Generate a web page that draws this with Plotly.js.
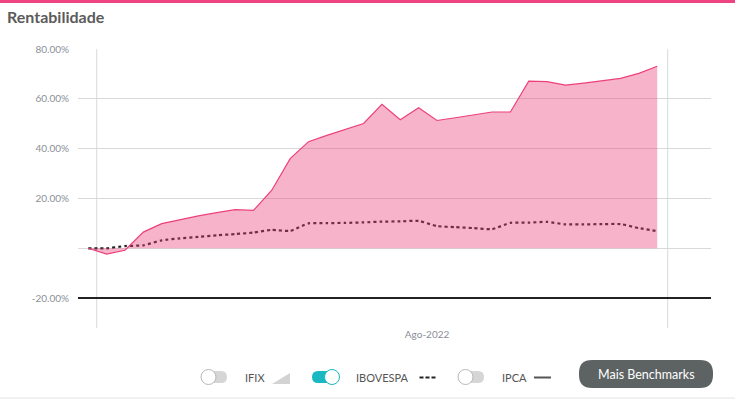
<!DOCTYPE html>
<html>
<head>
<meta charset="utf-8">
<script src="https://cdn.plot.ly/plotly-3.0.1.min.js"></script>
<style>
  html, body { margin: 0; padding: 0; background: #ffffff; }
  #chart { width: 735px; height: 399px; }
</style>
</head>
<body>
<div id="chart"></div>
<script>
// ---- data ----
const periods = [0,1,2,3,4,5,6,7,8,9,10,11,12,13,14,15,16,17,18,19,20,21,22,23,24,25,26,27,28,29,30,31];
const carteira = [0,-2.3,-0.8,6.5,9.9,11.6,13.0,14.3,15.5,15.2,23.3,36.0,42.8,45.3,47.7,50.1,57.8,51.6,56.4,51.3,52.4,53.5,54.7,54.7,67.1,66.9,65.5,66.3,67.2,68.2,70.2,73.1];
const ibovespa = [0,0,0.9,1.2,3.2,4.0,4.6,5.2,5.7,6.3,7.4,7.0,10.0,10.1,10.2,10.4,10.7,10.8,11.0,8.9,8.5,8.1,7.7,10.2,10.3,10.6,9.6,9.6,9.7,9.7,8.1,6.9];
const yTickVals = [-20, 0, 20, 40, 60, 80];
const yTickText = ['-20.00%', '', '20.00%', '40.00%', '60.00%', '80.00%'];
const xTickVals = [18.46];
const xTickText = ['Ago-2022'];
const xGridAt = [0.46, 31.57];
const legendItems = ['IFIX', 'IBOVESPA', 'IPCA'];
const buttonText = 'Mais Benchmarks';

// ---- layout helpers (pixel -> paper) ----
const L = 78, R = 711, T = 49, B = 328;
const px = p => (p - L) / (R - L);
const py = p => (B - p) / (B - T);
function rr(x0, y0, x1, y1, r) {
  const X = px, Y = py;
  return 'M' + X(x0 + r) + ',' + Y(y0) +
    ' L' + X(x1 - r) + ',' + Y(y0) +
    ' Q' + X(x1) + ',' + Y(y0) + ' ' + X(x1) + ',' + Y(y0 + r) +
    ' L' + X(x1) + ',' + Y(y1 - r) +
    ' Q' + X(x1) + ',' + Y(y1) + ' ' + X(x1 - r) + ',' + Y(y1) +
    ' L' + X(x0 + r) + ',' + Y(y1) +
    ' Q' + X(x0) + ',' + Y(y1) + ' ' + X(x0) + ',' + Y(y1 - r) +
    ' L' + X(x0) + ',' + Y(y0 + r) +
    ' Q' + X(x0) + ',' + Y(y0) + ' ' + X(x0 + r) + ',' + Y(y0) + ' Z';
}
function pshape(o) { return Object.assign({xref: 'paper', yref: 'paper'}, o); }
function circ(cx, cy, r, fill, line) {
  return pshape({type: 'circle', x0: px(cx - r), x1: px(cx + r), y0: py(cy + r), y1: py(cy - r),
    fillcolor: fill, line: {color: line, width: 1}});
}
function hline(x0, x1, y, color, w) {
  return pshape({type: 'line', x0: px(x0), x1: px(x1), y0: py(y), y1: py(y), line: {color: color, width: w}});
}

const PINK = '#ec407a';
const TEAL = '#1ab9c1';

const traces = [
  {
    x: periods, y: ibovespa, type: 'scatter', mode: 'lines',
    line: {color: '#222222', width: 2.2, dash: 'dot', shape: 'spline', smoothing: 0.5},
    hoverinfo: 'skip', showlegend: false
  },
  {
    x: periods, y: carteira, type: 'scatter', mode: 'lines',
    fill: 'tozeroy', fillcolor: 'rgba(236,64,122,0.4)',
    line: {color: PINK, width: 1.2},
    hoverinfo: 'skip', showlegend: false
  }
];

const shapes = [];
// top accent bar and bottom border
shapes.push(pshape({type: 'rect', x0: px(0), x1: px(735), y0: py(3), y1: py(0), fillcolor: '#ee4581', line: {width: 0}}));
shapes.push(hline(0, 735, 398, '#e4e4e4', 1));
// vertical grid lines
xGridAt.forEach(v => shapes.push({type: 'line', xref: 'x', yref: 'paper', x0: v, x1: v, y0: 0, y1: 1,
  line: {color: '#d9d9d9', width: 1}, layer: 'below'}));
// -20% axis line
shapes.push({type: 'line', xref: 'paper', yref: 'y', x0: 0, x1: 1, y0: -20, y1: -20, line: {color: '#222222', width: 2}});

// legend: toggles
// IFIX off
shapes.push(pshape({type: 'path', path: rr(201, 371, 227, 383, 6), fillcolor: '#d6d6d6', line: {width: 0}}));
shapes.push(circ(208.5, 377, 7.5, '#ffffff', '#b8b8b8'));
// IFIX symbol (triangle)
shapes.push(pshape({type: 'path', path: 'M' + px(272) + ',' + py(384) + ' L' + px(290) + ',' + py(384) + ' L' + px(290) + ',' + py(373) + ' Z',
  fillcolor: '#d3d3d3', line: {width: 0}}));
// IBOVESPA on
shapes.push(pshape({type: 'path', path: rr(312, 371, 339, 383, 6), fillcolor: TEAL, line: {width: 0}}));
shapes.push(circ(332, 377, 7.5, '#ffffff', TEAL));
// IBOVESPA symbol (dashes)
shapes.push(hline(419.5, 423.5, 377.5, '#222222', 2));
shapes.push(hline(425.5, 429.5, 377.5, '#222222', 2));
shapes.push(hline(431.5, 435.5, 377.5, '#222222', 2));
// IPCA off
shapes.push(pshape({type: 'path', path: rr(458, 371, 484, 383, 6), fillcolor: '#d6d6d6', line: {width: 0}}));
shapes.push(circ(465.5, 377, 7.5, '#ffffff', '#b8b8b8'));
// IPCA symbol (line)
shapes.push(hline(534, 551, 377.5, '#555555', 2));
// button
shapes.push(pshape({type: 'path', path: rr(579, 360, 713, 388, 13), fillcolor: '#5d6363', line: {width: 0}}));

const legendX = [243, 354, 500];
const annotations = legendItems.map((t, i) => ({
  xref: 'paper', yref: 'paper', x: px(legendX[i]), y: py(377.5), xanchor: 'left', yanchor: 'middle',
  text: t, showarrow: false, font: {family: 'Lato', size: 11, color: '#555555'}
}));
annotations.push({
  xref: 'paper', yref: 'paper', x: px(646), y: py(374), xanchor: 'center', yanchor: 'middle',
  text: buttonText, showarrow: false, font: {family: 'Lato', size: 12.5, color: '#ffffff'}
});

const layout = {
  width: 735, height: 399,
  margin: {l: L, r: 735 - R, t: T, b: 399 - B, pad: 0},
  paper_bgcolor: '#ffffff', plot_bgcolor: '#ffffff',
  title: {text: 'Rentabilidade', x: 7 / 735, xref: 'container', xanchor: 'left',
    y: 1 - 17.5 / 399, yref: 'container', yanchor: 'middle',
    font: {family: 'Lato', size: 16, weight: 700, color: '#5b5b5b'}},
  xaxis: {range: [-0.56, 33.93], showgrid: false, zeroline: false, showline: false,
    tickmode: 'array', tickvals: xTickVals, ticktext: xTickText, ticks: '',
    tickfont: {family: 'Lato', size: 10, color: '#8a8f98'}, ticklabelstandoff: -1, fixedrange: true},
  yaxis: {range: [-32, 80], showgrid: true, gridcolor: '#d9d9d9', gridwidth: 1, zeroline: false, showline: false,
    tickmode: 'array', tickvals: yTickVals, ticktext: yTickText, ticks: '',
    tickfont: {family: 'Lato', size: 10, color: '#8a8f98'}, ticklabelstandoff: 8, fixedrange: true},
  shapes: shapes,
  annotations: annotations,
  showlegend: false,
  hovermode: false
};

Plotly.newPlot('chart', traces, layout, {displayModeBar: false, staticPlot: true});
</script>
</body>
</html>
